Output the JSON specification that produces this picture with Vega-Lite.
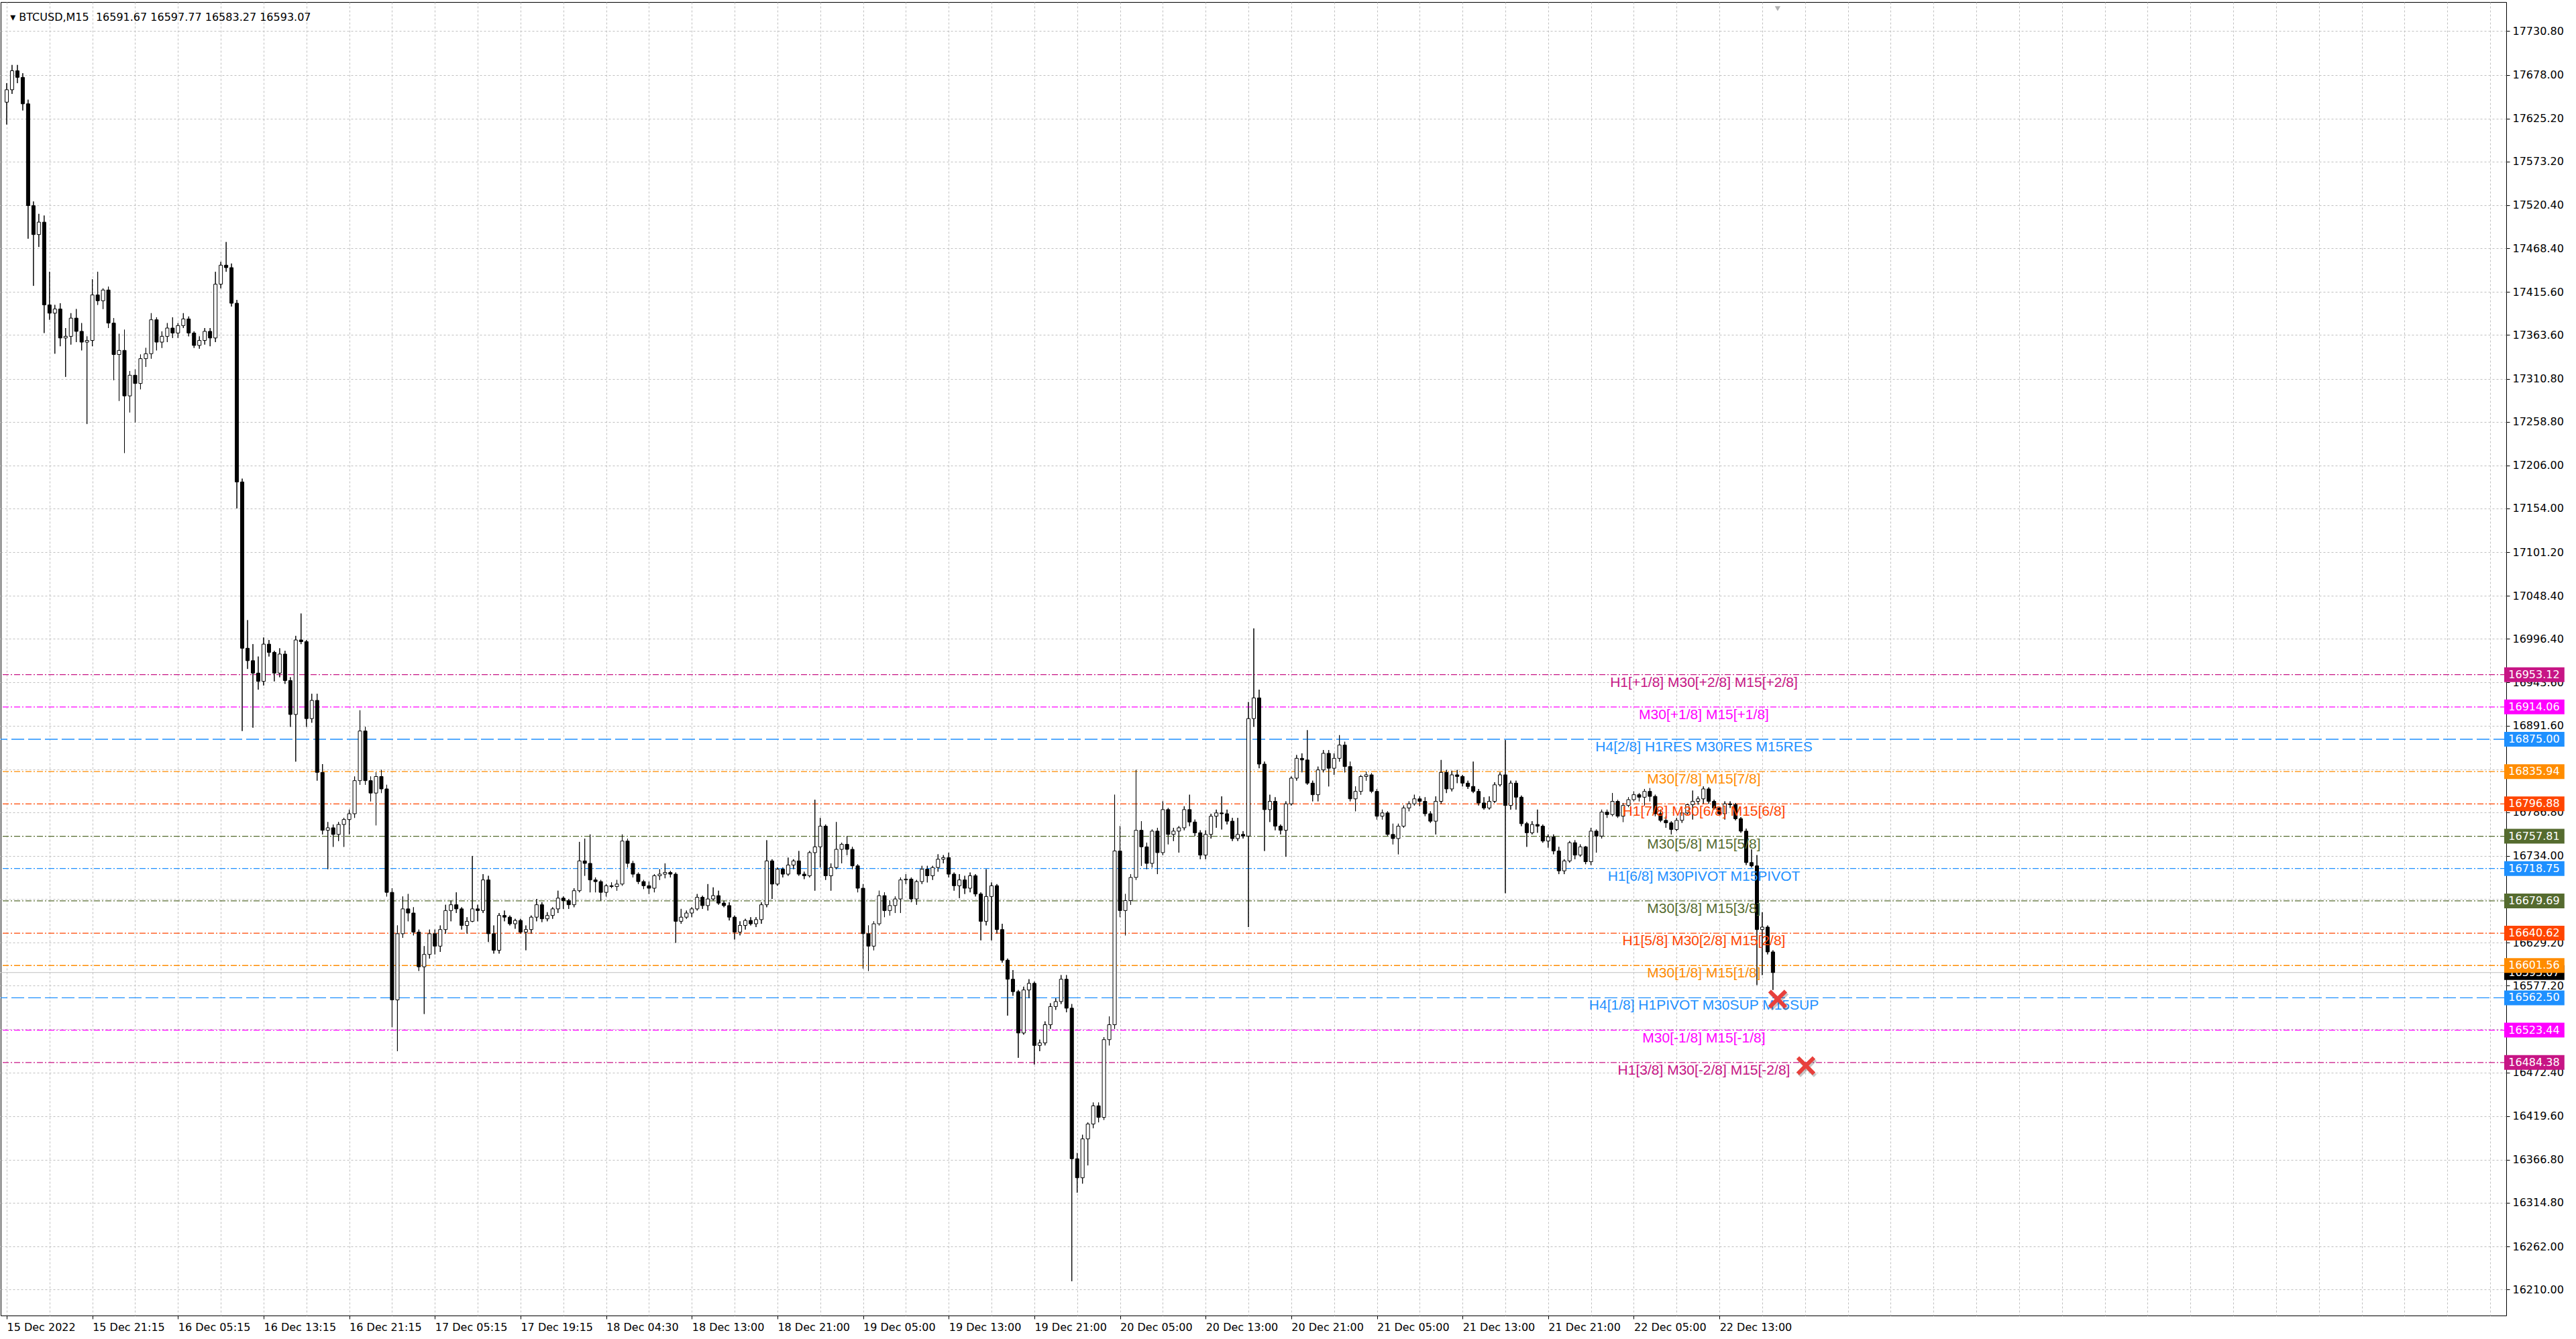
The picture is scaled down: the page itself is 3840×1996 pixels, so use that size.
{
"$schema": "https://vega.github.io/schema/vega-lite/v6.json",
"width": 3735, "height": 1958,
"autosize": {"type": "none"},
"padding": {"left": 1, "top": 3, "right": 104, "bottom": 35},
"background": "white",
"config": {"view": {"stroke": "black", "strokeWidth": 1}},
"datasets": {
"candles": [
{"i":0,"o":17645,"h":17668,"l":17618,"c":17660},{"i":2,"o":17660,"h":17690,"l":17655,"c":17683},{"i":4,"o":17683,"h":17690,"l":17668,"c":17675},{"i":6,"o":17675,"h":17680,"l":17635,"c":17643},{"i":8,"o":17643,"h":17648,"l":17480,"c":17520},{"i":10,"o":17520,"h":17525,"l":17423,"c":17485},{"i":12,"o":17485,"h":17510,"l":17470,"c":17500},{"i":14,"o":17500,"h":17508,"l":17366,"c":17400},{"i":16,"o":17400,"h":17440,"l":17382,"c":17390},{"i":18,"o":17390,"h":17400,"l":17341,"c":17395},
{"i":20,"o":17395,"h":17402,"l":17350,"c":17360},{"i":22,"o":17360,"h":17372,"l":17313,"c":17362},{"i":24,"o":17362,"h":17390,"l":17352,"c":17384},{"i":26,"o":17384,"h":17395,"l":17355,"c":17368},{"i":28,"o":17368,"h":17378,"l":17345,"c":17355},{"i":30,"o":17355,"h":17362,"l":17256,"c":17357},{"i":32,"o":17357,"h":17431,"l":17350,"c":17412},{"i":34,"o":17412,"h":17440,"l":17400,"c":17405},{"i":36,"o":17405,"h":17420,"l":17395,"c":17418},{"i":38,"o":17418,"h":17422,"l":17372,"c":17378},
{"i":40,"o":17378,"h":17384,"l":17309,"c":17340},{"i":42,"o":17340,"h":17365,"l":17284,"c":17345},{"i":44,"o":17345,"h":17370,"l":17221,"c":17290},{"i":46,"o":17290,"h":17320,"l":17270,"c":17315},{"i":48,"o":17315,"h":17322,"l":17258,"c":17305},{"i":50,"o":17305,"h":17340,"l":17298,"c":17335},{"i":52,"o":17335,"h":17348,"l":17325,"c":17341},{"i":54,"o":17341,"h":17390,"l":17335,"c":17382},{"i":56,"o":17382,"h":17385,"l":17345,"c":17355},{"i":58,"o":17355,"h":17368,"l":17348,"c":17362},
{"i":60,"o":17362,"h":17378,"l":17355,"c":17372},{"i":62,"o":17372,"h":17385,"l":17360,"c":17366},{"i":64,"o":17366,"h":17378,"l":17360,"c":17375},{"i":66,"o":17375,"h":17390,"l":17372,"c":17383},{"i":68,"o":17383,"h":17386,"l":17362,"c":17366},{"i":70,"o":17366,"h":17368,"l":17348,"c":17351},{"i":72,"o":17351,"h":17362,"l":17347,"c":17357},{"i":74,"o":17357,"h":17372,"l":17352,"c":17368},{"i":76,"o":17368,"h":17372,"l":17350,"c":17360},{"i":78,"o":17360,"h":17440,"l":17355,"c":17425},
{"i":80,"o":17425,"h":17452,"l":17420,"c":17448},{"i":82,"o":17448,"h":17476,"l":17440,"c":17445},{"i":84,"o":17445,"h":17450,"l":17398,"c":17402},{"i":86,"o":17402,"h":17406,"l":17154,"c":17186},{"i":88,"o":17186,"h":17190,"l":16885,"c":16985},{"i":90,"o":16985,"h":17019,"l":16960,"c":16970},{"i":92,"o":16970,"h":16990,"l":16889,"c":16955},{"i":94,"o":16955,"h":16975,"l":16935,"c":16945},{"i":96,"o":16945,"h":16998,"l":16940,"c":16990},{"i":98,"o":16990,"h":16995,"l":16975,"c":16980},
{"i":100,"o":16980,"h":16982,"l":16945,"c":16955},{"i":102,"o":16955,"h":16985,"l":16950,"c":16978},{"i":104,"o":16978,"h":16982,"l":16942,"c":16946},{"i":106,"o":16946,"h":16950,"l":16890,"c":16905},{"i":108,"o":16905,"h":17000,"l":16848,"c":16995},{"i":110,"o":16995,"h":17027,"l":16990,"c":16993},{"i":112,"o":16993,"h":16995,"l":16890,"c":16900},{"i":114,"o":16900,"h":16930,"l":16895,"c":16922},{"i":116,"o":16922,"h":16930,"l":16825,"c":16835},{"i":118,"o":16835,"h":16845,"l":16760,"c":16765},
{"i":120,"o":16765,"h":16775,"l":16718,"c":16768},{"i":122,"o":16768,"h":16772,"l":16745,"c":16760},{"i":124,"o":16760,"h":16775,"l":16752,"c":16772},{"i":126,"o":16772,"h":16780,"l":16745,"c":16778},{"i":128,"o":16778,"h":16790,"l":16760,"c":16785},{"i":130,"o":16785,"h":16830,"l":16780,"c":16825},{"i":132,"o":16825,"h":16910,"l":16820,"c":16885},{"i":134,"o":16885,"h":16890,"l":16820,"c":16825},{"i":136,"o":16825,"h":16830,"l":16800,"c":16810},{"i":138,"o":16810,"h":16835,"l":16771,"c":16830},
{"i":140,"o":16830,"h":16838,"l":16810,"c":16815},{"i":142,"o":16815,"h":16820,"l":16685,"c":16690},{"i":144,"o":16690,"h":16695,"l":16527,"c":16560},{"i":146,"o":16560,"h":16650,"l":16498,"c":16640},{"i":148,"o":16640,"h":16685,"l":16635,"c":16670},{"i":150,"o":16670,"h":16688,"l":16655,"c":16665},{"i":152,"o":16665,"h":16672,"l":16638,"c":16642},{"i":154,"o":16642,"h":16645,"l":16595,"c":16600},{"i":156,"o":16600,"h":16625,"l":16543,"c":16615},{"i":158,"o":16615,"h":16645,"l":16610,"c":16640},
{"i":160,"o":16640,"h":16645,"l":16615,"c":16625},{"i":162,"o":16625,"h":16650,"l":16618,"c":16645},{"i":164,"o":16645,"h":16675,"l":16640,"c":16668},{"i":166,"o":16668,"h":16680,"l":16655,"c":16675},{"i":168,"o":16675,"h":16690,"l":16665,"c":16670},{"i":170,"o":16670,"h":16672,"l":16645,"c":16650},{"i":172,"o":16650,"h":16660,"l":16640,"c":16655},{"i":174,"o":16655,"h":16734,"l":16654,"c":16670},{"i":176,"o":16670,"h":16675,"l":16655,"c":16668},{"i":178,"o":16668,"h":16712,"l":16665,"c":16705},
{"i":180,"o":16705,"h":16710,"l":16630,"c":16640},{"i":182,"o":16640,"h":16650,"l":16616,"c":16620},{"i":184,"o":16620,"h":16665,"l":16616,"c":16662},{"i":186,"o":16662,"h":16668,"l":16655,"c":16660},{"i":188,"o":16660,"h":16662,"l":16650,"c":16652},{"i":190,"o":16652,"h":16658,"l":16646,"c":16656},{"i":192,"o":16656,"h":16658,"l":16640,"c":16642},{"i":194,"o":16642,"h":16650,"l":16620,"c":16645},{"i":196,"o":16645,"h":16662,"l":16640,"c":16660},{"i":198,"o":16660,"h":16682,"l":16655,"c":16675},
{"i":200,"o":16675,"h":16678,"l":16654,"c":16658},{"i":202,"o":16658,"h":16666,"l":16655,"c":16662},{"i":204,"o":16662,"h":16672,"l":16658,"c":16670},{"i":206,"o":16670,"h":16692,"l":16665,"c":16683},{"i":208,"o":16683,"h":16685,"l":16670,"c":16680},{"i":210,"o":16680,"h":16682,"l":16670,"c":16675},{"i":212,"o":16675,"h":16695,"l":16672,"c":16692},{"i":214,"o":16692,"h":16751,"l":16690,"c":16728},{"i":216,"o":16728,"h":16755,"l":16710,"c":16725},{"i":218,"o":16725,"h":16760,"l":16690,"c":16705},
{"i":220,"o":16705,"h":16708,"l":16690,"c":16703},{"i":222,"o":16703,"h":16705,"l":16680,"c":16690},{"i":224,"o":16690,"h":16700,"l":16685,"c":16698},{"i":226,"o":16698,"h":16702,"l":16695,"c":16697},{"i":228,"o":16697,"h":16705,"l":16692,"c":16700},{"i":230,"o":16700,"h":16760,"l":16698,"c":16752},{"i":232,"o":16752,"h":16755,"l":16720,"c":16725},{"i":234,"o":16725,"h":16728,"l":16708,"c":16712},{"i":236,"o":16712,"h":16714,"l":16700,"c":16703},{"i":238,"o":16703,"h":16705,"l":16694,"c":16698},
{"i":240,"o":16698,"h":16703,"l":16688,"c":16695},{"i":242,"o":16695,"h":16712,"l":16690,"c":16710},{"i":244,"o":16710,"h":16718,"l":16705,"c":16712},{"i":246,"o":16712,"h":16725,"l":16707,"c":16714},{"i":248,"o":16714,"h":16716,"l":16708,"c":16712},{"i":250,"o":16712,"h":16714,"l":16629,"c":16655},{"i":252,"o":16655,"h":16670,"l":16652,"c":16660},{"i":254,"o":16660,"h":16668,"l":16658,"c":16665},{"i":256,"o":16665,"h":16672,"l":16660,"c":16670},{"i":258,"o":16670,"h":16688,"l":16668,"c":16684},
{"i":260,"o":16684,"h":16686,"l":16670,"c":16674},{"i":262,"o":16674,"h":16700,"l":16668,"c":16682},{"i":264,"o":16682,"h":16696,"l":16680,"c":16686},{"i":266,"o":16686,"h":16692,"l":16675,"c":16677},{"i":268,"o":16677,"h":16680,"l":16672,"c":16674},{"i":270,"o":16674,"h":16678,"l":16656,"c":16660},{"i":272,"o":16660,"h":16662,"l":16633,"c":16642},{"i":274,"o":16642,"h":16655,"l":16638,"c":16650},{"i":276,"o":16650,"h":16658,"l":16645,"c":16656},{"i":278,"o":16656,"h":16660,"l":16650,"c":16652},
{"i":280,"o":16652,"h":16660,"l":16648,"c":16657},{"i":282,"o":16657,"h":16678,"l":16652,"c":16675},{"i":284,"o":16675,"h":16753,"l":16672,"c":16728},{"i":286,"o":16728,"h":16730,"l":16682,"c":16700},{"i":288,"o":16700,"h":16720,"l":16698,"c":16718},{"i":290,"o":16718,"h":16720,"l":16708,"c":16712},{"i":292,"o":16712,"h":16732,"l":16710,"c":16723},{"i":294,"o":16723,"h":16730,"l":16718,"c":16728},{"i":296,"o":16728,"h":16740,"l":16710,"c":16712},{"i":298,"o":16712,"h":16715,"l":16706,"c":16710},
{"i":300,"o":16710,"h":16740,"l":16708,"c":16738},{"i":302,"o":16738,"h":16802,"l":16692,"c":16745},{"i":304,"o":16745,"h":16780,"l":16720,"c":16770},{"i":306,"o":16770,"h":16772,"l":16705,"c":16710},{"i":308,"o":16710,"h":16725,"l":16692,"c":16720},{"i":310,"o":16720,"h":16775,"l":16718,"c":16742},{"i":312,"o":16742,"h":16750,"l":16725,"c":16748},{"i":314,"o":16748,"h":16758,"l":16735,"c":16742},{"i":316,"o":16742,"h":16745,"l":16718,"c":16722},{"i":318,"o":16722,"h":16724,"l":16690,"c":16695},
{"i":320,"o":16695,"h":16700,"l":16598,"c":16640},{"i":322,"o":16640,"h":16650,"l":16595,"c":16625},{"i":324,"o":16625,"h":16655,"l":16620,"c":16652},{"i":326,"o":16652,"h":16692,"l":16650,"c":16686},{"i":328,"o":16686,"h":16690,"l":16660,"c":16668},{"i":330,"o":16668,"h":16680,"l":16662,"c":16674},{"i":332,"o":16674,"h":16685,"l":16665,"c":16682},{"i":334,"o":16682,"h":16708,"l":16665,"c":16705},{"i":336,"o":16705,"h":16712,"l":16700,"c":16706},{"i":338,"o":16706,"h":16708,"l":16678,"c":16682},
{"i":340,"o":16682,"h":16705,"l":16675,"c":16703},{"i":342,"o":16703,"h":16722,"l":16700,"c":16718},{"i":344,"o":16718,"h":16722,"l":16702,"c":16710},{"i":346,"o":16710,"h":16722,"l":16705,"c":16720},{"i":348,"o":16720,"h":16736,"l":16715,"c":16730},{"i":350,"o":16730,"h":16735,"l":16725,"c":16732},{"i":352,"o":16732,"h":16738,"l":16708,"c":16712},{"i":354,"o":16712,"h":16714,"l":16692,"c":16698},{"i":356,"o":16698,"h":16712,"l":16683,"c":16705},{"i":358,"o":16705,"h":16710,"l":16688,"c":16695},
{"i":360,"o":16695,"h":16714,"l":16690,"c":16710},{"i":362,"o":16710,"h":16712,"l":16685,"c":16688},{"i":364,"o":16688,"h":16690,"l":16632,"c":16655},{"i":366,"o":16655,"h":16718,"l":16650,"c":16685},{"i":368,"o":16685,"h":16702,"l":16632,"c":16698},{"i":370,"o":16698,"h":16700,"l":16640,"c":16645},{"i":372,"o":16645,"h":16652,"l":16605,"c":16608},{"i":374,"o":16608,"h":16610,"l":16541,"c":16585},{"i":376,"o":16585,"h":16596,"l":16565,"c":16570},{"i":378,"o":16570,"h":16572,"l":16490,"c":16520},
{"i":380,"o":16520,"h":16576,"l":16518,"c":16572},{"i":382,"o":16572,"h":16585,"l":16562,"c":16580},{"i":384,"o":16580,"h":16582,"l":16482,"c":16505},{"i":386,"o":16505,"h":16512,"l":16498,"c":16508},{"i":388,"o":16508,"h":16534,"l":16505,"c":16530},{"i":390,"o":16530,"h":16556,"l":16525,"c":16552},{"i":392,"o":16552,"h":16562,"l":16548,"c":16558},{"i":394,"o":16558,"h":16590,"l":16555,"c":16585},{"i":396,"o":16585,"h":16590,"l":16545,"c":16550},{"i":398,"o":16550,"h":16555,"l":16220,"c":16368},
{"i":400,"o":16368,"h":16375,"l":16327,"c":16345},{"i":402,"o":16345,"h":16397,"l":16338,"c":16392},{"i":404,"o":16392,"h":16412,"l":16360,"c":16410},{"i":406,"o":16410,"h":16436,"l":16405,"c":16432},{"i":408,"o":16432,"h":16436,"l":16412,"c":16418},{"i":410,"o":16418,"h":16515,"l":16415,"c":16512},{"i":412,"o":16512,"h":16540,"l":16505,"c":16530},{"i":414,"o":16530,"h":16808,"l":16525,"c":16740},{"i":416,"o":16740,"h":16770,"l":16660,"c":16668},{"i":418,"o":16668,"h":16688,"l":16638,"c":16680},
{"i":420,"o":16680,"h":16712,"l":16675,"c":16708},{"i":422,"o":16708,"h":16838,"l":16705,"c":16765},{"i":424,"o":16765,"h":16776,"l":16722,"c":16745},{"i":426,"o":16745,"h":16750,"l":16718,"c":16725},{"i":428,"o":16725,"h":16766,"l":16720,"c":16764},{"i":430,"o":16764,"h":16768,"l":16712,"c":16738},{"i":432,"o":16738,"h":16800,"l":16735,"c":16790},{"i":434,"o":16790,"h":16792,"l":16748,"c":16760},{"i":436,"o":16760,"h":16768,"l":16752,"c":16764},{"i":438,"o":16764,"h":16770,"l":16738,"c":16768},
{"i":440,"o":16768,"h":16794,"l":16765,"c":16790},{"i":442,"o":16790,"h":16808,"l":16770,"c":16775},{"i":444,"o":16775,"h":16778,"l":16758,"c":16762},{"i":446,"o":16762,"h":16765,"l":16730,"c":16735},{"i":448,"o":16735,"h":16765,"l":16730,"c":16760},{"i":450,"o":16760,"h":16785,"l":16755,"c":16782},{"i":452,"o":16782,"h":16790,"l":16768,"c":16786},{"i":454,"o":16786,"h":16806,"l":16766,"c":16785},{"i":456,"o":16785,"h":16790,"l":16772,"c":16776},{"i":458,"o":16776,"h":16780,"l":16752,"c":16755},
{"i":460,"o":16755,"h":16780,"l":16752,"c":16760},{"i":462,"o":16760,"h":16764,"l":16755,"c":16758},{"i":464,"o":16758,"h":16920,"l":16648,"c":16900},{"i":466,"o":16900,"h":17009,"l":16890,"c":16925},{"i":468,"o":16925,"h":16935,"l":16840,"c":16845},{"i":470,"o":16845,"h":16848,"l":16740,"c":16790},{"i":472,"o":16790,"h":16808,"l":16775,"c":16800},{"i":474,"o":16800,"h":16805,"l":16765,"c":16770},{"i":476,"o":16770,"h":16772,"l":16760,"c":16765},{"i":478,"o":16765,"h":16800,"l":16733,"c":16797},
{"i":480,"o":16797,"h":16830,"l":16795,"c":16828},{"i":482,"o":16828,"h":16856,"l":16825,"c":16852},{"i":484,"o":16852,"h":16858,"l":16835,"c":16850},{"i":486,"o":16850,"h":16886,"l":16820,"c":16822},{"i":488,"o":16822,"h":16825,"l":16800,"c":16808},{"i":490,"o":16808,"h":16842,"l":16800,"c":16838},{"i":492,"o":16838,"h":16862,"l":16835,"c":16858},{"i":494,"o":16858,"h":16862,"l":16818,"c":16840},{"i":496,"o":16840,"h":16858,"l":16832,"c":16852},{"i":498,"o":16852,"h":16880,"l":16848,"c":16868},
{"i":500,"o":16868,"h":16872,"l":16835,"c":16842},{"i":502,"o":16842,"h":16848,"l":16800,"c":16803},{"i":504,"o":16803,"h":16818,"l":16788,"c":16812},{"i":506,"o":16812,"h":16832,"l":16808,"c":16830},{"i":508,"o":16830,"h":16836,"l":16825,"c":16832},{"i":510,"o":16832,"h":16834,"l":16810,"c":16812},{"i":512,"o":16812,"h":16815,"l":16778,"c":16782},{"i":514,"o":16782,"h":16790,"l":16778,"c":16786},{"i":516,"o":16786,"h":16788,"l":16758,"c":16760},{"i":518,"o":16760,"h":16773,"l":16748,"c":16755},
{"i":520,"o":16755,"h":16773,"l":16736,"c":16770},{"i":522,"o":16770,"h":16795,"l":16768,"c":16792},{"i":524,"o":16792,"h":16800,"l":16788,"c":16797},{"i":526,"o":16797,"h":16808,"l":16795,"c":16803},{"i":528,"o":16803,"h":16806,"l":16794,"c":16800},{"i":530,"o":16800,"h":16805,"l":16782,"c":16785},{"i":532,"o":16785,"h":16788,"l":16774,"c":16776},{"i":534,"o":16776,"h":16806,"l":16760,"c":16800},{"i":536,"o":16800,"h":16850,"l":16797,"c":16835},{"i":538,"o":16835,"h":16838,"l":16810,"c":16815},
{"i":540,"o":16815,"h":16837,"l":16812,"c":16832},{"i":542,"o":16832,"h":16838,"l":16822,"c":16830},{"i":544,"o":16830,"h":16832,"l":16818,"c":16822},{"i":546,"o":16822,"h":16825,"l":16815,"c":16818},{"i":548,"o":16818,"h":16848,"l":16810,"c":16812},{"i":550,"o":16812,"h":16815,"l":16795,"c":16798},{"i":552,"o":16798,"h":16805,"l":16790,"c":16792},{"i":554,"o":16792,"h":16806,"l":16790,"c":16800},{"i":556,"o":16800,"h":16823,"l":16798,"c":16820},{"i":558,"o":16820,"h":16835,"l":16818,"c":16832},
{"i":560,"o":16832,"h":16874,"l":16689,"c":16795},{"i":562,"o":16795,"h":16825,"l":16790,"c":16822},{"i":564,"o":16822,"h":16825,"l":16790,"c":16805},{"i":566,"o":16805,"h":16807,"l":16770,"c":16773},{"i":568,"o":16773,"h":16775,"l":16745,"c":16762},{"i":570,"o":16762,"h":16776,"l":16760,"c":16772},{"i":572,"o":16772,"h":16790,"l":16762,"c":16770},{"i":574,"o":16770,"h":16772,"l":16750,"c":16752},{"i":576,"o":16752,"h":16760,"l":16744,"c":16757},{"i":578,"o":16757,"h":16760,"l":16736,"c":16740},
{"i":580,"o":16740,"h":16745,"l":16712,"c":16716},{"i":582,"o":16716,"h":16730,"l":16712,"c":16728},{"i":584,"o":16728,"h":16752,"l":16726,"c":16750},{"i":586,"o":16750,"h":16753,"l":16730,"c":16735},{"i":588,"o":16735,"h":16748,"l":16733,"c":16745},{"i":590,"o":16745,"h":16746,"l":16724,"c":16727},{"i":592,"o":16727,"h":16768,"l":16723,"c":16764},{"i":594,"o":16764,"h":16766,"l":16738,"c":16758},{"i":596,"o":16758,"h":16790,"l":16755,"c":16787},{"i":598,"o":16787,"h":16790,"l":16780,"c":16784},
{"i":600,"o":16784,"h":16810,"l":16782,"c":16800},{"i":602,"o":16800,"h":16802,"l":16780,"c":16782},{"i":604,"o":16782,"h":16798,"l":16775,"c":16795},{"i":606,"o":16795,"h":16805,"l":16793,"c":16802},{"i":608,"o":16802,"h":16812,"l":16800,"c":16808},{"i":610,"o":16808,"h":16810,"l":16800,"c":16805},{"i":612,"o":16805,"h":16815,"l":16795,"c":16812},{"i":614,"o":16812,"h":16816,"l":16800,"c":16806},{"i":616,"o":16806,"h":16808,"l":16782,"c":16785},{"i":618,"o":16785,"h":16790,"l":16775,"c":16777},
{"i":620,"o":16777,"h":16782,"l":16768,"c":16774},{"i":622,"o":16774,"h":16776,"l":16760,"c":16766},{"i":624,"o":16766,"h":16780,"l":16764,"c":16777},{"i":626,"o":16777,"h":16790,"l":16774,"c":16786},{"i":628,"o":16786,"h":16797,"l":16784,"c":16796},{"i":630,"o":16796,"h":16813,"l":16778,"c":16800},{"i":632,"o":16800,"h":16806,"l":16796,"c":16803},{"i":634,"o":16803,"h":16818,"l":16797,"c":16815},{"i":636,"o":16815,"h":16817,"l":16797,"c":16800},{"i":638,"o":16800,"h":16802,"l":16790,"c":16792},
{"i":640,"o":16792,"h":16793,"l":16783,"c":16785},{"i":642,"o":16785,"h":16800,"l":16778,"c":16797},{"i":644,"o":16797,"h":16800,"l":16792,"c":16796},{"i":646,"o":16796,"h":16798,"l":16777,"c":16779},{"i":648,"o":16779,"h":16781,"l":16762,"c":16764},{"i":650,"o":16764,"h":16767,"l":16723,"c":16726},{"i":652,"o":16726,"h":16742,"l":16720,"c":16722},{"i":654,"o":16722,"h":16735,"l":16578,"c":16645},{"i":656,"o":16645,"h":16666,"l":16590,"c":16648},{"i":658,"o":16648,"h":16650,"l":16615,"c":16618},
{"i":660,"o":16618,"h":16620,"l":16572,"c":16593}
],
"levels": [
{"p":16953.12,"lab":"H1[+1/8] M30[+2/8] M15[+2/8]"},
{"p":16914.06,"lab":"M30[+1/8] M15[+1/8]"},
{"p":16875.00,"lab":"H4[2/8] H1RES M30RES M15RES"},
{"p":16835.94,"lab":"M30[7/8] M15[7/8]"},
{"p":16796.88,"lab":"H1[7/8] M30[6/8] M15[6/8]"},
{"p":16757.81,"lab":"M30[5/8] M15[5/8]"},
{"p":16718.75,"lab":"H1[6/8] M30PIVOT M15PIVOT"},
{"p":16679.69,"lab":"M30[3/8] M15[3/8]"},
{"p":16640.62,"lab":"H1[5/8] M30[2/8] M15[2/8]"},
{"p":16601.56,"lab":"M30[1/8] M15[1/8]"},
{"p":16562.50,"lab":"H4[1/8] H1PIVOT M30SUP M15SUP"},
{"p":16523.44,"lab":"M30[-1/8] M15[-1/8]"},
{"p":16484.38,"lab":"H1[3/8] M30[-2/8] M15[-2/8]"}
],
"marks": [{"i":661.75,"p":16561},{"i":672.3,"p":16480.5}],
"one": [{}]
},
"layer": [
{
"data": {"name": "candles"},
"mark": {"type": "rule", "color": "black", "strokeWidth": 1},
"encoding": {
"x": {"field": "i", "type": "quantitative", "title": null, "scale": {"domain": [-1, 932.75], "nice": false, "zero": false},
 "axis": {"values": [0,16,32,48,64,80,96,112,128,144,160,176,192,208,224,240,256,272,288,304,320,336,352,368,384,400,416,432,448,464,480,496,512,528,544,560,576,592,608,624,640,656,672,688,704,720,736,752,768,784,800,816,832,848,864,880,896,912,928],
  "title": null, "orient": "bottom", "domain": false, "grid": true, "gridColor": "#C0C0C0", "gridDash": [3,3], "gridWidth": 1,
  "labelExpr": "(datum.value % 32 === 0 && datum.value <= 640) ? ['15 Dec 2022','15 Dec 21:15','16 Dec 05:15','16 Dec 13:15','16 Dec 21:15','17 Dec 05:15','17 Dec 19:15','18 Dec 04:30','18 Dec 13:00','18 Dec 21:00','19 Dec 05:00','19 Dec 13:00','19 Dec 21:00','20 Dec 05:00','20 Dec 13:00','20 Dec 21:00','21 Dec 05:00','21 Dec 13:00','21 Dec 21:00','22 Dec 05:00','22 Dec 13:00'][round(datum.value / 32)] : ''",
  "labelAlign": "left", "labelFont": "DejaVu Sans", "labelFontSize": 16, "labelColor": "black", "labelPadding": 4, "labelOverlap": false, "labelFlush": false,
  "tickSize": 5, "tickColor": "black", "tickOpacity": {"condition": {"test": "datum.value % 32 === 0 && datum.value <= 640", "value": 1}, "value": 0}}},
"y": {"field": "l", "type": "quantitative", "title": null, "scale": {"domain": [16182.6, 17762.0], "nice": false, "zero": false},
 "axis": {"values": [17730.8,17678,17625.2,17573.2,17520.4,17468.4,17415.6,17363.6,17310.8,17258.8,17206,17154,17101.2,17048.4,16996.4,16943.6,16891.6,16838.8,16786.8,16734,16682,16629.2,16577.2,16524.4,16472.4,16419.6,16366.8,16314.8,16262,16210],
  "title": null, "orient": "right", "format": ".2f", "domain": false, "grid": true, "gridColor": "#C0C0C0", "gridDash": [3,3], "gridWidth": 1,
  "labelFont": "DejaVu Sans", "labelFontSize": 16, "labelColor": "black", "labelPadding": 4, "labelOverlap": false, "labelFlush": false, "tickSize": 5, "tickColor": "black"}},
"y2": {"field": "h"}
}
},
{
"data": {"name": "levels"},
"mark": {"type": "rule", "strokeWidth": 1.3},
"encoding": {
"y": {"field": "p", "type": "quantitative", "title": null},
"color": {"field": "lab", "type": "nominal", "legend": null,
 "scale": {"domain": ["H1[+1/8] M30[+2/8] M15[+2/8]","M30[+1/8] M15[+1/8]","H4[2/8] H1RES M30RES M15RES","M30[7/8] M15[7/8]","H1[7/8] M30[6/8] M15[6/8]","M30[5/8] M15[5/8]","H1[6/8] M30PIVOT M15PIVOT","M30[3/8] M15[3/8]","H1[5/8] M30[2/8] M15[2/8]","M30[1/8] M15[1/8]","H4[1/8] H1PIVOT M30SUP M15SUP","M30[-1/8] M15[-1/8]","H1[3/8] M30[-2/8] M15[-2/8]"],
  "range": ["#C71585","#FF00FF","#1E90FF","#FF8C00","#FF4500","#556B2F","#1E90FF","#556B2F","#FF4500","#FF8C00","#1E90FF","#FF00FF","#C71585"]}},
"strokeDash": {"field": "lab", "type": "nominal", "legend": null,
 "scale": {"domain": ["H1[+1/8] M30[+2/8] M15[+2/8]","M30[+1/8] M15[+1/8]","H4[2/8] H1RES M30RES M15RES","M30[7/8] M15[7/8]","H1[7/8] M30[6/8] M15[6/8]","M30[5/8] M15[5/8]","H1[6/8] M30PIVOT M15PIVOT","M30[3/8] M15[3/8]","H1[5/8] M30[2/8] M15[2/8]","M30[1/8] M15[1/8]","H4[1/8] H1PIVOT M30SUP M15SUP","M30[-1/8] M15[-1/8]","H1[3/8] M30[-2/8] M15[-2/8]"],
  "range": [[9,3,2,3],[9,3,2,3],[19,6],[9,3,2,3],[9,3,2,3],[9,3,2,3],[9,3,2,3],[9,3,2,3],[9,3,2,3],[9,3,2,3],[19,6],[9,3,2,3],[9,3,2,3]]}}
}
},
{
"data": {"name": "one"},
"mark": {"type": "rule", "color": "#C0C0C0", "strokeWidth": 1},
"encoding": {"y": {"datum": 16593.07, "type": "quantitative", "title": null}}
},
{
"data": {"name": "candles"},
"mark": {"type": "rule", "color": "black", "strokeWidth": 1},
"encoding": {
"x": {"field": "i", "type": "quantitative", "title": null},
"y": {"field": "l", "type": "quantitative", "title": null},
"y2": {"field": "h"}
}
},
{
"data": {"name": "candles"},
"mark": {"type": "bar", "width": 5, "stroke": "black", "strokeWidth": 1},
"encoding": {
"x": {"field": "i", "type": "quantitative", "title": null},
"y": {"field": "o", "type": "quantitative", "title": null},
"y2": {"field": "c"},
"fill": {"condition": {"test": "datum.c >= datum.o", "value": "white"}, "value": "black"}
}
},
{
"data": {"name": "levels"},
"mark": {"type": "text", "align": "center", "baseline": "alphabetic", "dy": 18, "font": "Liberation Sans", "fontSize": 21},
"encoding": {
"x": {"datum": 634.2, "type": "quantitative", "title": null},
"y": {"field": "p", "type": "quantitative", "title": null},
"text": {"field": "lab"},
"color": {"field": "lab", "type": "nominal", "legend": null}
}
},
{
"data": {"name": "one"},
"mark": {"type": "bar", "height": 22, "color": "black"},
"encoding": {
"x": {"datum": 933.25, "type": "quantitative", "title": null},
"x2": {"datum": 955.75},
"y": {"datum": 16593.07, "type": "quantitative", "title": null}
}
},
{
"data": {"name": "one"},
"mark": {"type": "text", "align": "center", "baseline": "middle", "font": "DejaVu Sans", "fontSize": 16, "color": "white"},
"encoding": {
"x": {"datum": 944.4, "type": "quantitative", "title": null},
"y": {"datum": 16593.07, "type": "quantitative", "title": null},
"text": {"value": "16593.07"}
}
},
{
"data": {"name": "levels"},
"mark": {"type": "bar", "height": 22},
"encoding": {
"x": {"datum": 933.25, "type": "quantitative", "title": null},
"x2": {"datum": 955.75},
"y": {"field": "p", "type": "quantitative", "title": null},
"color": {"field": "lab", "type": "nominal", "legend": null}
}
},
{
"data": {"name": "levels"},
"mark": {"type": "text", "align": "center", "baseline": "middle", "font": "DejaVu Sans", "fontSize": 16, "color": "white"},
"encoding": {
"x": {"datum": 944.4, "type": "quantitative", "title": null},
"y": {"field": "p", "type": "quantitative", "title": null},
"text": {"field": "p", "type": "quantitative", "format": ".2f"}
}
},
{
"data": {"name": "marks"},
"mark": {"type": "point", "shape": "M-1,-0.7L-0.7,-1L0,-0.3L0.7,-1L1,-0.7L0.3,0L1,0.7L0.7,1L0,0.3L-0.7,1L-1,0.7L-0.3,0Z", "size": 800, "filled": true, "color": "black", "opacity": 0.22, "xOffset": 2, "yOffset": 3},
"encoding": {
"x": {"field": "i", "type": "quantitative", "title": null},
"y": {"field": "p", "type": "quantitative", "title": null}
}
},
{
"data": {"name": "marks"},
"mark": {"type": "point", "shape": "M-1,-0.7L-0.7,-1L0,-0.3L0.7,-1L1,-0.7L0.3,0L1,0.7L0.7,1L0,0.3L-0.7,1L-1,0.7L-0.3,0Z", "size": 800, "filled": true, "color": "#E8403C", "opacity": 1},
"encoding": {
"x": {"field": "i", "type": "quantitative", "title": null},
"y": {"field": "p", "type": "quantitative", "title": null}
}
},
{
"data": {"name": "one"},
"mark": {"type": "point", "shape": "triangle-down", "size": 70, "filled": true, "color": "#B0B0B0", "opacity": 1},
"encoding": {
"x": {"datum": 661.75, "type": "quantitative", "title": null},
"y": {"datum": 17758, "type": "quantitative", "title": null}
}
},
{
"data": {"name": "one"},
"mark": {"type": "text", "align": "left", "baseline": "alphabetic", "font": "DejaVu Sans", "fontSize": 16, "color": "black"},
"encoding": {
"x": {"datum": 1.3, "type": "quantitative", "title": null},
"y": {"datum": 17743.4, "type": "quantitative", "title": null},
"text": {"value": "▾ BTCUSD,M15\u00a0\u00a016591.67 16597.77 16583.27 16593.07"}
}
}
]
}
